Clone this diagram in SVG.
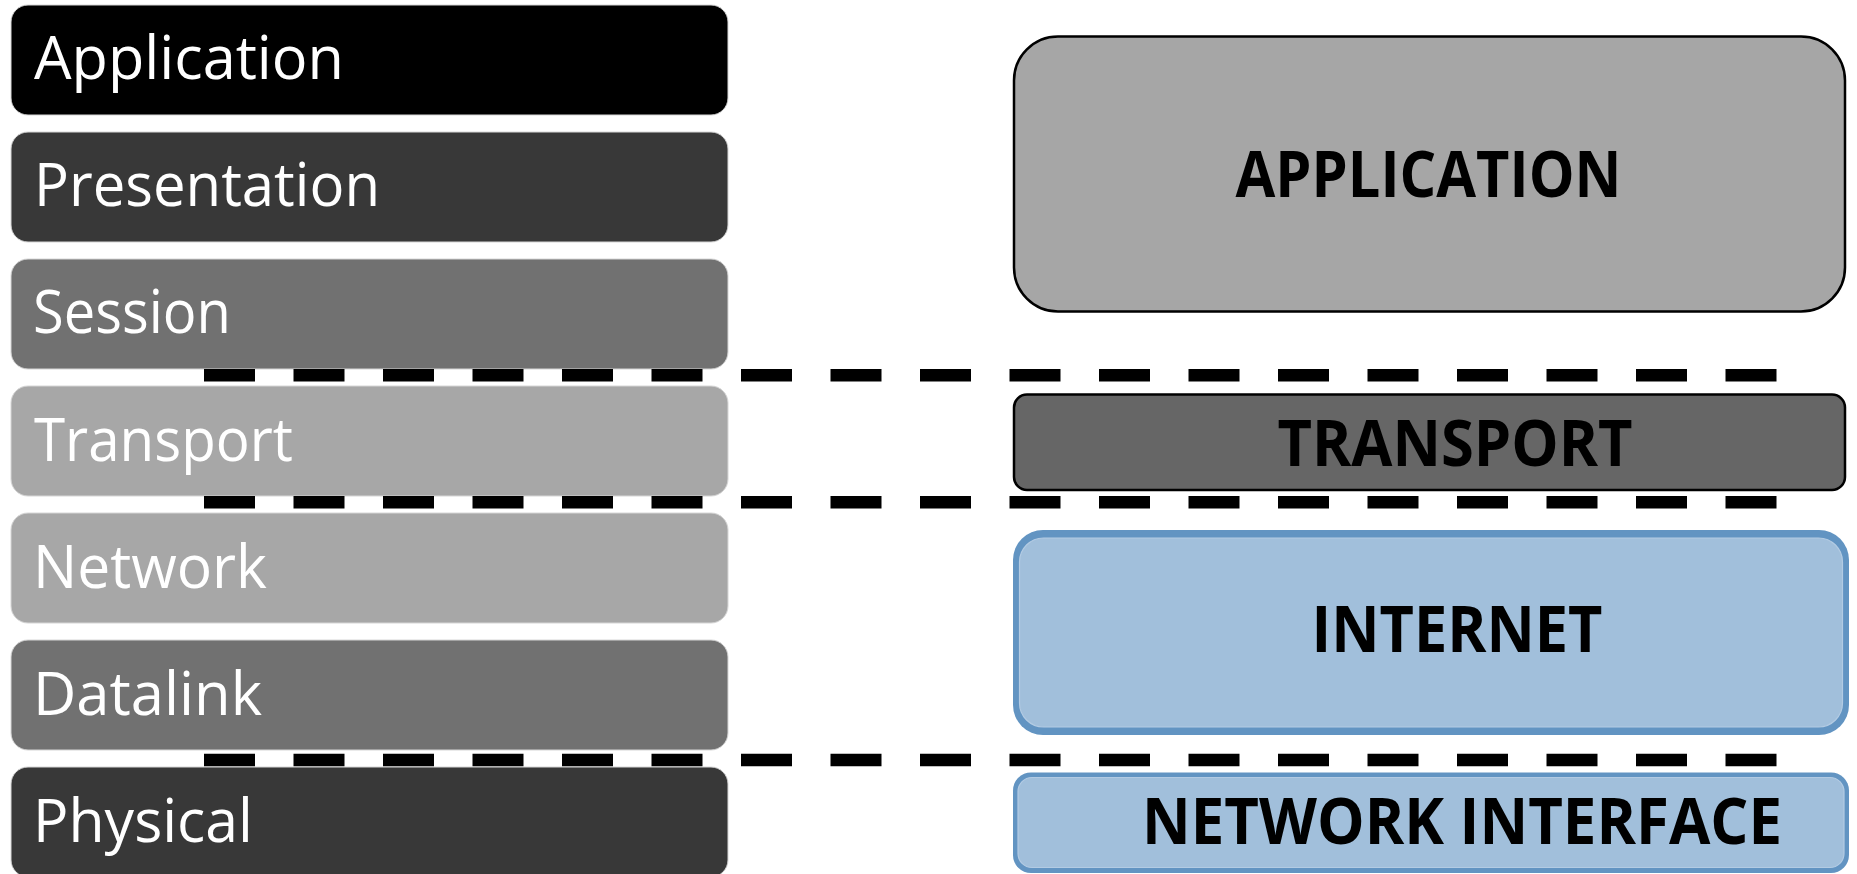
<svg xmlns="http://www.w3.org/2000/svg" width="1857" height="874" viewBox="0 0 1857 874">
  <style>
    .osi { stroke: #d6d6d6; stroke-width: 1; }
    .osi-label { font-family: "Open Sans", "Liberation Sans", sans-serif; font-size: 60px; fill: #ffffff; }
    .tcp { stroke: #000000; stroke-width: 2.5; }
    .tcp-label { font-family: "Open Sans", "Liberation Sans", sans-serif; font-weight: bold; font-size: 64px; fill: #000000; }
    .sep { stroke: #000000; stroke-width: 12.5; stroke-dasharray: 51 38.5; fill: none; }
    .blue-edge { fill: #6294c2; }
    .blue-fill { fill: #a1bfdb; stroke: #b3cbe3; stroke-width: 1.2; }
  </style>

  <rect width="1857" height="874" fill="#ffffff"/>

  <!-- OSI model stack (left) -->
  <g id="osi-application">
    <rect class="osi" x="11" y="5" width="717" height="110" rx="17" fill="#000000"/>
    <text class="osi-label" x="34" y="79" textLength="310" lengthAdjust="spacingAndGlyphs">Application</text>
  </g>
  <g id="osi-presentation">
    <rect class="osi" x="11" y="132" width="717" height="110" rx="17" fill="#383838"/>
    <text class="osi-label" x="34" y="206" textLength="346" lengthAdjust="spacingAndGlyphs">Presentation</text>
  </g>
  <g id="osi-session">
    <rect class="osi" x="11" y="259" width="717" height="110" rx="17" fill="#717171"/>
    <text class="osi-label" x="33" y="333" textLength="198" lengthAdjust="spacingAndGlyphs">Session</text>
  </g>
  <g id="osi-transport">
    <rect class="osi" x="11" y="386" width="717" height="110" rx="17" fill="#a7a7a7"/>
    <text class="osi-label" x="34" y="460.5" textLength="259" lengthAdjust="spacingAndGlyphs">Transport</text>
  </g>
  <g id="osi-network">
    <rect class="osi" x="11" y="513" width="717" height="110" rx="17" fill="#a7a7a7"/>
    <text class="osi-label" x="33" y="587.5" textLength="234" lengthAdjust="spacingAndGlyphs">Network</text>
  </g>
  <g id="osi-datalink">
    <rect class="osi" x="11" y="640" width="717" height="110" rx="17" fill="#717171"/>
    <text class="osi-label" x="33" y="714.5" textLength="229" lengthAdjust="spacingAndGlyphs">Datalink</text>
  </g>
  <g id="osi-physical">
    <rect class="osi" x="11" y="767" width="717" height="110" rx="17" fill="#383838"/>
    <text class="osi-label" x="33" y="841.5" textLength="220" lengthAdjust="spacingAndGlyphs">Physical</text>
  </g>

  <!-- TCP/IP model stack (right) -->
  <g id="tcp-application">
    <rect class="tcp" x="1014" y="36.5" width="831" height="275" rx="44" fill="#a6a6a6"/>
    <text class="tcp-label" x="1235.5" y="196.5" textLength="386" lengthAdjust="spacingAndGlyphs">APPLICATION</text>
  </g>
  <g id="tcp-transport">
    <rect class="tcp" x="1014" y="394.5" width="831" height="95.5" rx="13" fill="#666666"/>
    <text class="tcp-label" x="1277.5" y="466" textLength="355" lengthAdjust="spacingAndGlyphs">TRANSPORT</text>
  </g>
  <g id="tcp-internet">
    <rect class="blue-edge" x="1013" y="530" width="836" height="205" rx="30"/>
    <rect class="blue-fill" x="1019.5" y="538" width="823" height="189" rx="24"/>
    <text class="tcp-label" x="1311.5" y="652" textLength="291" lengthAdjust="spacingAndGlyphs">INTERNET</text>
  </g>
  <g id="tcp-network-interface">
    <rect class="blue-edge" x="1013" y="772.5" width="836" height="100.5" rx="18"/>
    <rect class="blue-fill" x="1018" y="777.5" width="826" height="90" rx="14"/>
    <text class="tcp-label" x="1142" y="844" textLength="640" lengthAdjust="spacingAndGlyphs">NETWORK INTERFACE</text>
  </g>

  <!-- dashed separators mapping OSI layers onto TCP/IP layers -->
  <g id="connectors">
    <line class="sep" x1="204" y1="375.2" x2="1777" y2="375.2"/>
    <line class="sep" x1="204" y1="502.3" x2="1777" y2="502.3"/>
    <line class="sep" x1="204" y1="760" x2="1777" y2="760"/>
  </g>
</svg>
